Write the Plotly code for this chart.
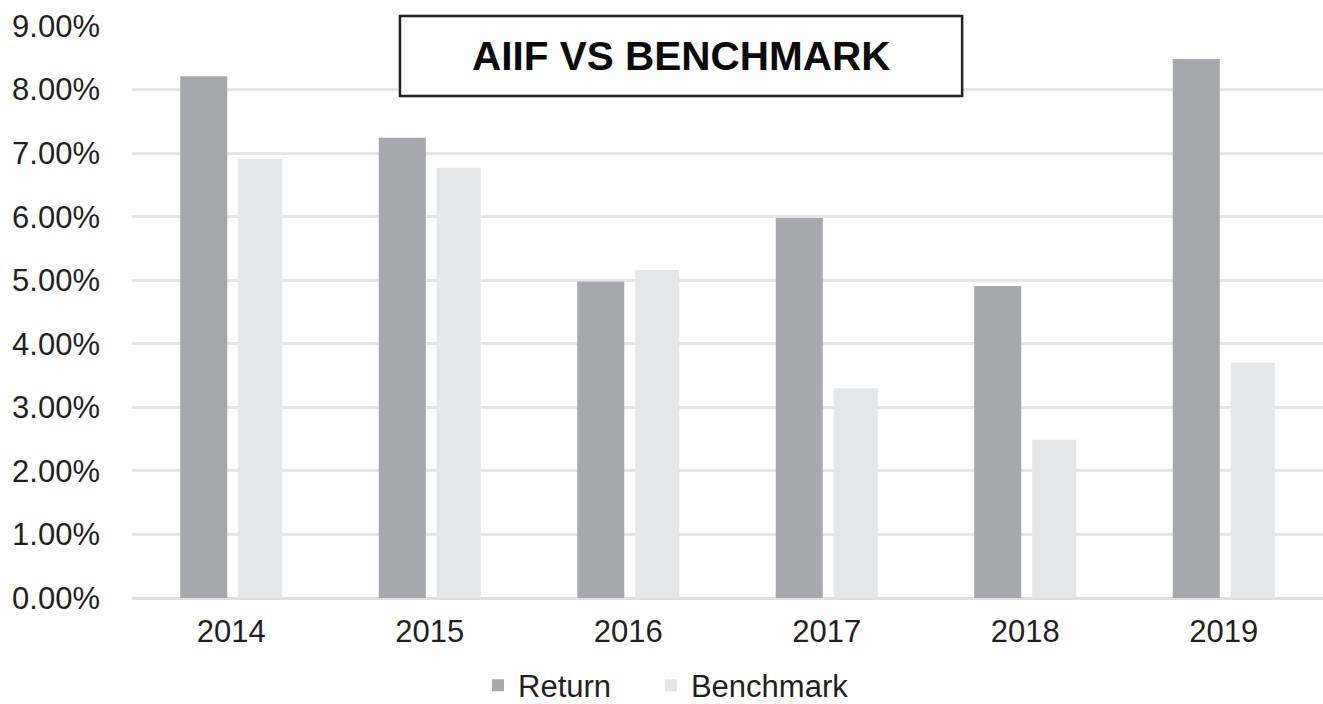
import plotly.graph_objects as go

years = ["2014", "2015", "2016", "2017", "2018", "2019"]
returns = [8.21, 7.24, 4.98, 5.98, 4.91, 8.48]
benchmark = [6.91, 6.77, 5.16, 3.30, 2.49, 3.70]
y_ticks = [0, 1, 2, 3, 4, 5, 6, 7, 8, 9]
y_tick_text = [f"{v:.2f}%" for v in y_ticks]

FONT = "Liberation Sans, Arial, sans-serif"
TEXT = "#231f20"

fig = go.Figure()
fig.add_trace(go.Bar(
    x=years, y=returns, name="Return", legend="legend",
    marker=dict(color="#a7a8ab", line=dict(width=0)),
    width=0.237, offset=-0.257,
))
fig.add_trace(go.Bar(
    x=years, y=benchmark, name="Benchmark", legend="legend2",
    marker=dict(color="#e5e6e8", line=dict(width=0)),
    width=0.222, offset=0.035,
))

legend_style = dict(
    orientation="h", xref="container", yref="container",
    xanchor="left", y=0.026, yanchor="middle",
    font=dict(size=31, color=TEXT), itemwidth=30,
    bgcolor="rgba(0,0,0,0)",
)

fig.update_layout(
    width=1323, height=704,
    margin=dict(l=132, r=0, t=26, b=106, autoexpand=False),
    plot_bgcolor="white", paper_bgcolor="white",
    font=dict(family=FONT, size=31, color=TEXT),
    barmode="group",
    showlegend=True,
    legend=dict(legend_style, x=0.3613),
    legend2=dict(legend_style, x=0.492),
    xaxis=dict(
        type="category", showgrid=False, showline=False, zeroline=False,
        ticks="", tickfont=dict(size=31), ticklabelstandoff=12,
    ),
    yaxis=dict(
        range=[0, 9], tickvals=y_ticks, ticktext=y_tick_text,
        showgrid=True, gridcolor="#e5e6e5", gridwidth=2.7,
        zeroline=True, zerolinecolor="#dedfde", zerolinewidth=2.7,
        showline=False, ticks="", tickfont=dict(size=31), ticklabelstandoff=31,
    ),
)

# Boxed chart title
fig.add_shape(
    type="rect", xref="paper", yref="paper",
    x0=0.225, x1=0.697, y0=0.8776, y1=1.0175,
    fillcolor="white", line=dict(color=TEXT, width=2.5), layer="above",
)
fig.add_annotation(
    xref="paper", yref="paper", x=0.461, y=0.9476,
    text="<b>AIIF VS BENCHMARK</b>", showarrow=False,
    font=dict(size=40.5, color="#0a0a0a", family=FONT),
    xanchor="center", yanchor="middle",
)

fig.write_html("out.html")
